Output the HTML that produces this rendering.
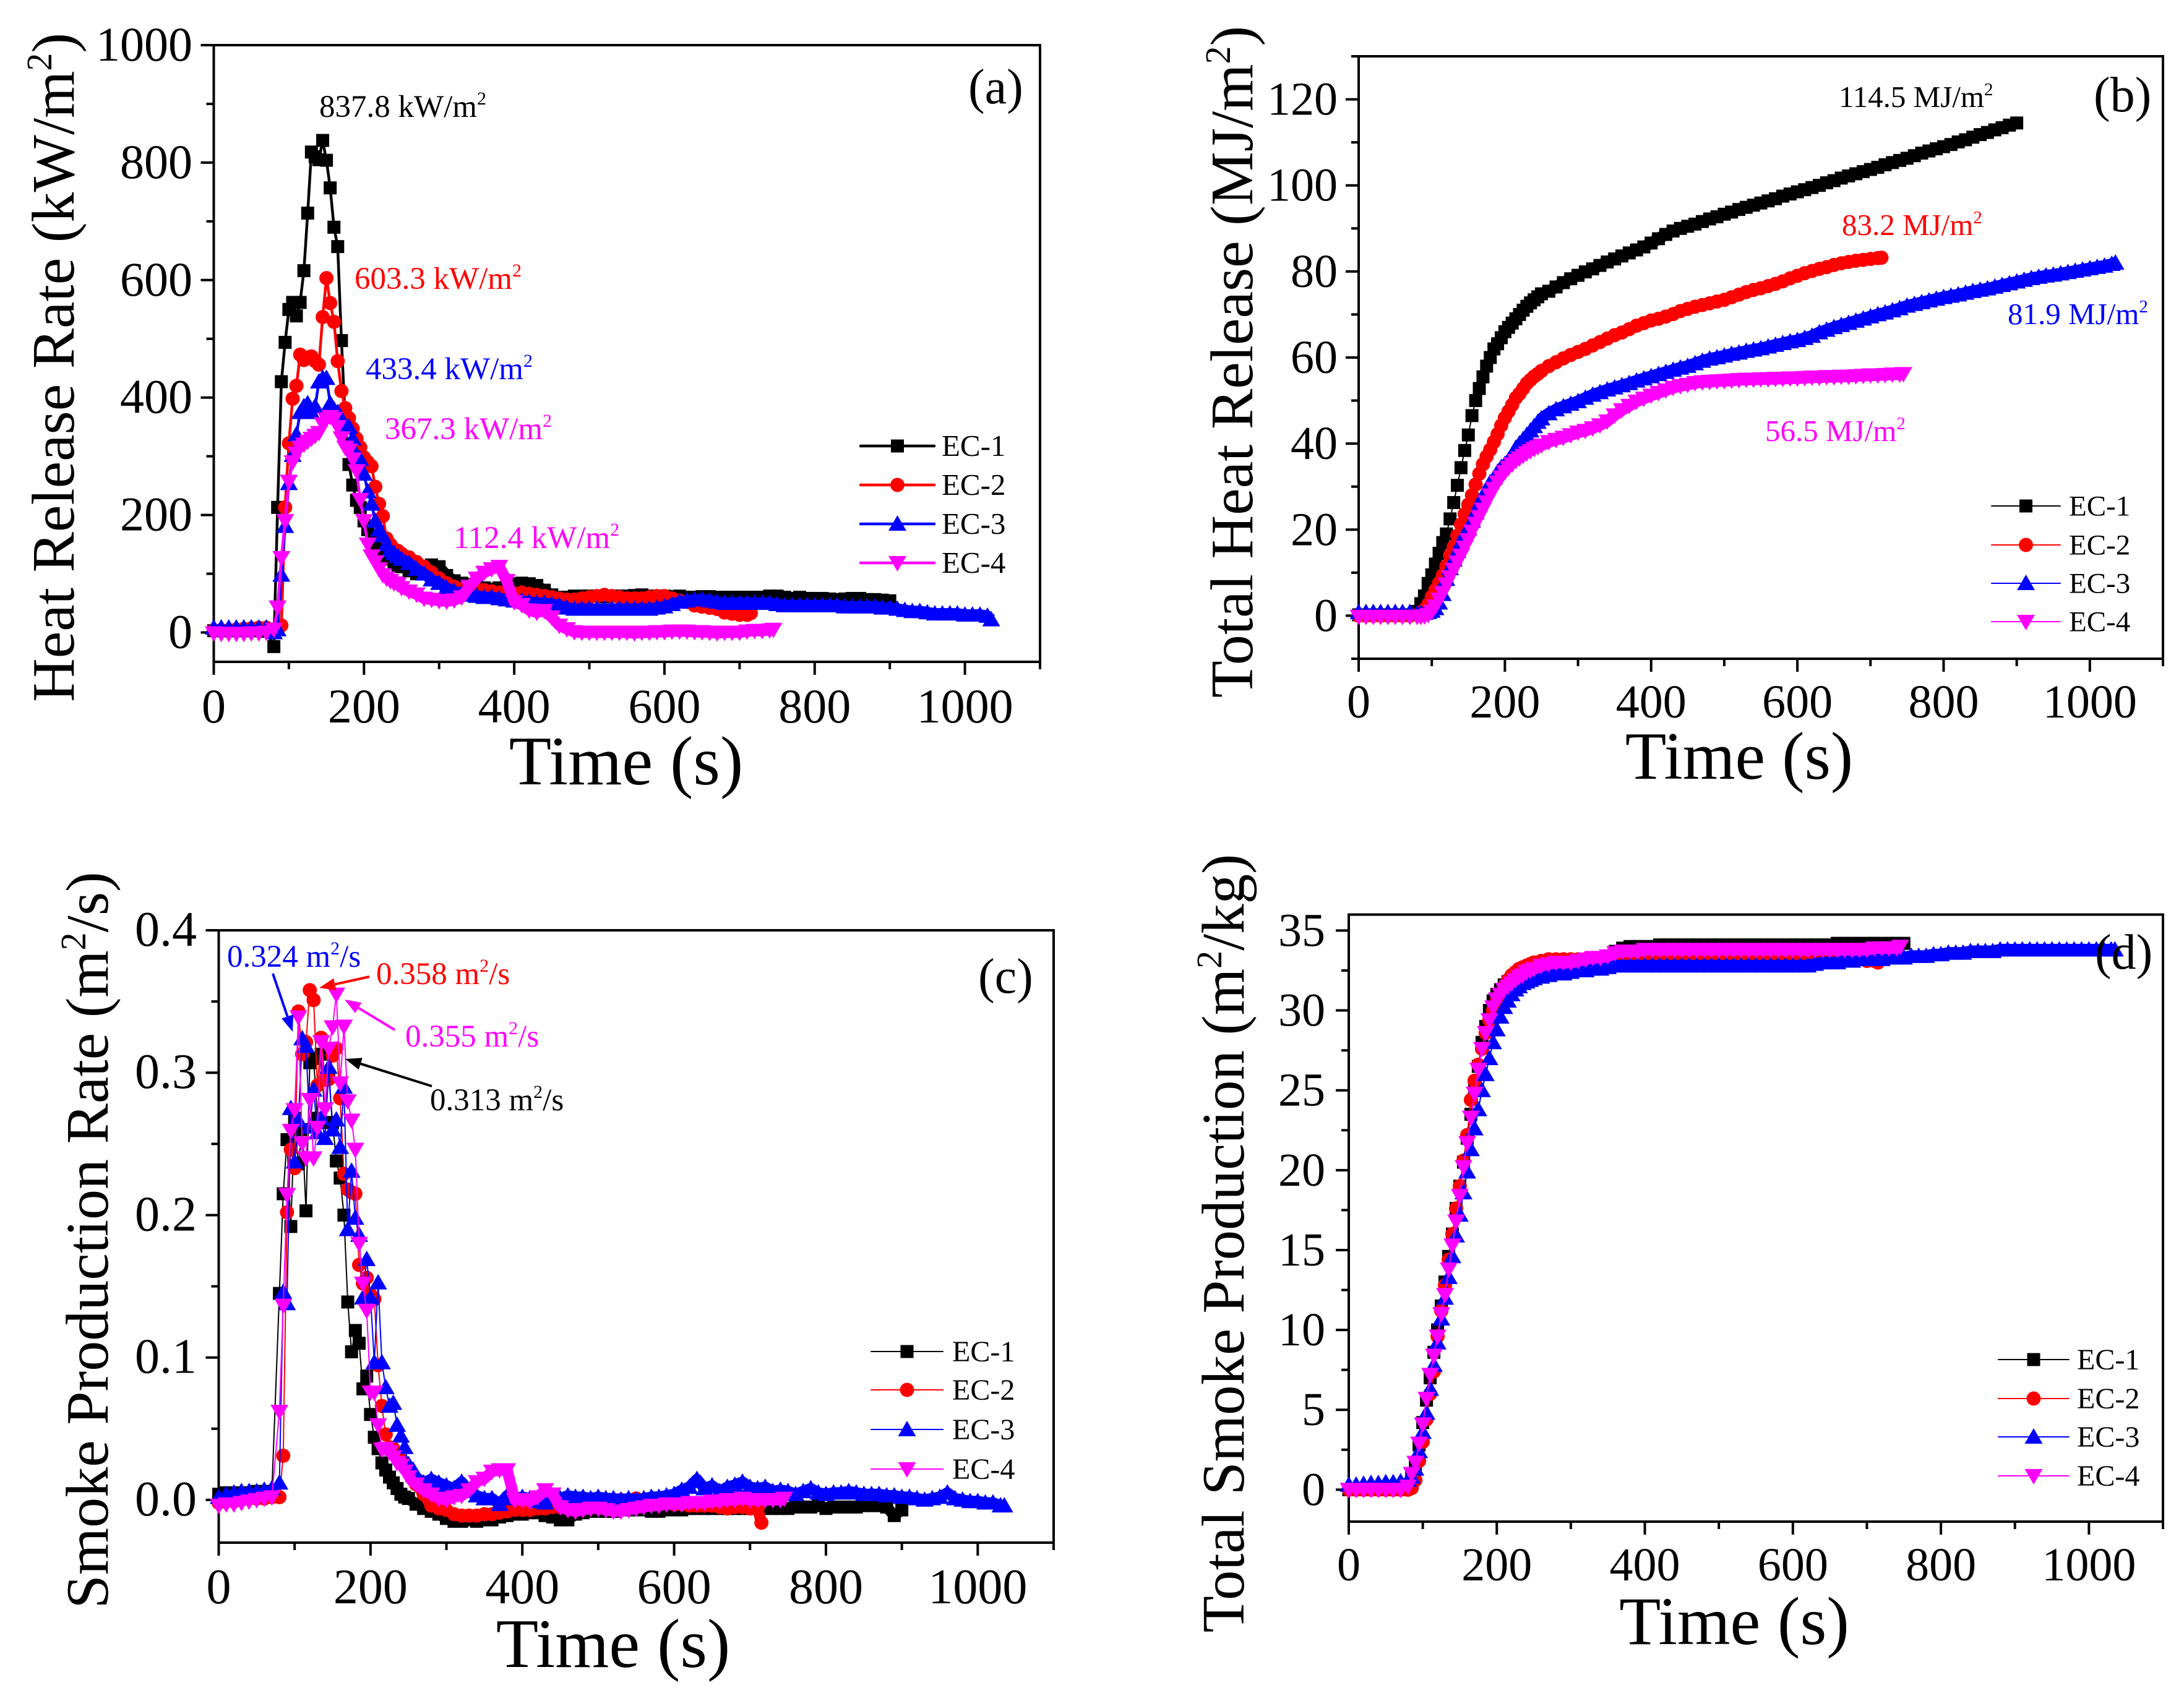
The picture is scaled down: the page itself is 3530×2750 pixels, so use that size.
<!DOCTYPE html>
<html lang="en">
<head>
<meta charset="utf-8">
<title>Heat release and smoke production of EC-1 to EC-4</title>
<style>
html,body{margin:0;padding:0;background:#fff;}
svg{display:block;}
text{font-family:"Liberation Serif",serif;fill:#000;}
</style>
</head>
<body>
<svg id="figure" xmlns="http://www.w3.org/2000/svg" width="3530" height="2750" viewBox="0 0 3530 2750">
<rect x="0" y="0" width="3530" height="2750" fill="#fff"/>

<g id="panel-a">
  <text transform="translate(119,594) rotate(-90)" text-anchor="middle" font-size="98">Heat Release Rate (kW/m<tspan font-size="58" dy="-36">2</tspan><tspan dy="36">)</tspan></text>
  <text x="1012" y="1268" text-anchor="middle" font-size="112">Time (s)</text>
  <text x="1565" y="167" font-size="80">(a)</text>
  <text x="516" y="189" font-size="51" style="fill:#000">837.8 kW/m<tspan font-size="30" dy="-20">2</tspan></text>
  <text x="573" y="467" font-size="51" style="fill:#f00">603.3 kW/m<tspan font-size="30" dy="-20">2</tspan></text>
  <text x="591" y="613" font-size="51" style="fill:#00f">433.4 kW/m<tspan font-size="30" dy="-20">2</tspan></text>
  <text x="622" y="710" font-size="51" style="fill:#f0f">367.3 kW/m<tspan font-size="30" dy="-20">2</tspan></text>
  <text x="733" y="886" font-size="51" style="fill:#f0f">112.4 kW/m<tspan font-size="30" dy="-20">2</tspan></text>
</g>

<g id="panel-b">
  <text transform="translate(2024,585) rotate(-90)" text-anchor="middle" font-size="98">Total Heat Release (MJ/m<tspan font-size="58" dy="-36">2</tspan><tspan dy="36">)</tspan></text>
  <text x="2811" y="1259" text-anchor="middle" font-size="109">Time (s)</text>
  <text x="3384" y="180" font-size="80">(b)</text>
  <text x="2972" y="173" font-size="49" style="fill:#000">114.5 MJ/m<tspan font-size="29" dy="-19">2</tspan></text>
  <text x="2977" y="380" font-size="49" style="fill:#f00">83.2 MJ/m<tspan font-size="29" dy="-19">2</tspan></text>
  <text x="3245" y="524" font-size="49" style="fill:#00f">81.9 MJ/m<tspan font-size="29" dy="-19">2</tspan></text>
  <text x="2853" y="713" font-size="49" style="fill:#f0f">56.5 MJ/m<tspan font-size="29" dy="-19">2</tspan></text>
</g>

<g id="panel-c">
  <text transform="translate(174,2005) rotate(-90)" text-anchor="middle" font-size="98">Smoke Production Rate (m<tspan font-size="58" dy="-36">2</tspan><tspan dy="36">/s)</tspan></text>
  <text x="991" y="2695" text-anchor="middle" font-size="112">Time (s)</text>
  <text x="1581" y="1605" font-size="80">(c)</text>
  <text x="367" y="1563" font-size="51" style="fill:#00f">0.324 m<tspan font-size="30" dy="-20">2</tspan><tspan dy="20">/s</tspan></text>
  <text x="608" y="1591" font-size="51" style="fill:#f00">0.358 m<tspan font-size="30" dy="-20">2</tspan><tspan dy="20">/s</tspan></text>
  <text x="655" y="1692" font-size="51" style="fill:#f0f">0.355 m<tspan font-size="30" dy="-20">2</tspan><tspan dy="20">/s</tspan></text>
  <text x="695" y="1795" font-size="51" style="fill:#000">0.313 m<tspan font-size="30" dy="-20">2</tspan><tspan dy="20">/s</tspan></text>
</g>

<g id="panel-d">
  <text transform="translate(2010,2010) rotate(-90)" text-anchor="middle" font-size="97">Total Smoke Production (m<tspan font-size="58" dy="-36">2</tspan><tspan dy="36">/kg)</tspan></text>
  <text x="2803" y="2658" text-anchor="middle" font-size="110">Time (s)</text>
</g>
</svg>

<script>
// Shared sampling times (seconds) for every series in every panel
const timeSeconds = [
  0,10,20,30,40,50,60,70,
  80,85,90,95,100,105,110,115,120,125,130,135,140,145,150,155,160,165,170,175,180,185,190,195,200,205,210,215,220,225,230,235,240,245,250,
  260,270,280,290,300,310,320,330,340,350,
  360,370,380,390,400,410,420,430,440,450,
  460,470,480,490,500,510,520,530,540,550,
  560,570,580,590,600,610,620,630,640,650,
  660,670,680,690,700,710,720,730,740,750,
  760,770,780,790,800,810,820,830,840,850,
  860,870,880,890,900,910,920,930,940,950,
  960,970,980,990,1000,1010,1020,1030,1040
];
// Time of each specimen's final reading (burn-out), seconds
const seriesEndTimes = [900,715,1035,745];
const seriesNames = ['EC-1','EC-2','EC-3','EC-4'];
const xTickLabels = ['0','200','400','600','800','1000'];
const xMinorTicks = [100,300,500,700,900,1100];

// (a) Heat release rate, kW/m2
const hrrEc1 = [3,3,3,3,3,3,3,2,
  -24,213,427,494,550,562,539,562,616,714,818,810,805,837.8,804,757,690,657,497,360,286,251,225,213,190,175,160,150,140,135,130,125,120,115,112,
  105,100,100,115,112,97,88,84,82,80,
  76,74,76,80,83,84,83,80,72,64,
  60,60,62,62,62,62,61,62,62,62,
  63,64,62,62,62,61,62,60,60,61,
  61,60,60,60,60,60,60,60,62,62,
  60,58,60,58,58,58,57,56,57,58,
  58,56,56,55,54];
const hrrEc2 = [4,4,4,5,6,7,8,8,
  5,5,12,213,322,398,420,473,464,468,470,462,456,537,603.3,561,529,462,411,382,365,347,330,315,298,290,283,248,219,198,160,150,142,139,134,
  128,120,112,102,92,84,78,74,74,74,
  72,70,68,68,66,68,66,64,62,60,
  58,56,56,58,60,62,64,62,60,58,
  58,58,60,62,62,58,54,52,46,44,
  42,40,34,32,30,30,33];
const hrrEc3 = [8,8,8,8,8,8,8,8,
  0,5,98,181,254,302,337,375,385,390,375,385,427,433.4,433,390,380,375,360,353,350,330,302,295,270,240,219,190,175,165,150,140,135,130,125,
  118,108,100,90,84,76,70,66,64,62,
  60,60,58,56,54,54,52,50,50,48,
  46,42,40,40,40,40,40,40,40,40,
  40,40,40,42,44,48,52,54,56,56,
  54,52,50,50,50,50,50,50,50,48,
  46,46,46,46,46,46,46,46,44,44,
  44,44,44,42,42,40,38,36,36,34,
  32,32,32,32,30,30,30,28,22];
const hrrEc4 = [-1,-2,-2,-2,-2,-1,-1,0,
  5,43,127,190,257,290,305,315,320,325,330,335,340,355,363,367.3,364,350,331,315,310,295,275,226,190,150,130,120,108,98,92,88,84,82,76,
  70,65,58,56,54,53,55,60,78,92,
  102,108,112,88,52,47,38,34,37,26,
  12,6,1,0,0,0,0,0,0,0,
  -1,0,0,1,1,2,2,2,1,1,
  0,-1,0,0,0,2,3,3,4,5];
const hrrYTickLabels = ['0','200','400','600','800','1000'];
const hrrYMinorTicks = [100,300,500,700,900];

// (b) Total heat release, MJ/m2
const thrEc1 = [0.2,0.2,0.2,0.2,0.2,0.2,0.2,0.2,
  1,2.8,4.6,7.5,9.5,12,14.5,17,19,22.5,26.3,30.3,34.4,38.4,42,46.5,50,52.8,55.5,58,60,62,63.2,64.6,66,67,68,69,70,71,71.9,72.7,73.4,74.1,74.8,
  75.4,76.4,77.4,78.3,79.1,79.9,80.6,81.4,82.2,82.9,
  83.6,84.3,85,85.7,86.6,87.6,88.6,89.4,90,90.5,
  91,91.6,92.2,92.7,93.3,93.8,94.4,94.9,95.4,95.9,
  96.4,96.9,97.5,98,98.5,99,99.5,100,100.6,101.1,
  101.7,102.2,102.7,103.2,103.7,104.2,104.8,105.3,105.8,106.3,
  106.9,107.5,108,108.5,109,109.5,110.1,110.6,111.2,111.8,
  112.3,112.9,113.4,114,114.5];
const thrEc2 = [0,0,0,0,0,0,0,0,
  0.2,0.6,1.4,2.6,4.4,6,7.6,9.4,11.5,14,16,18.6,21.2,23.6,25.8,28,30.5,33,35.2,37,38.6,40.4,42.2,44.2,46,47.5,49,50.6,51.6,52.8,54,54.8,55.6,56.2,56.9,
  58,58.9,59.8,60.6,61.3,62,62.8,63.6,64.4,65.2,
  65.8,66.6,67.4,68,68.6,69,69.5,70.1,70.8,71.3,
  71.8,72.2,72.6,73,73.4,74,74.6,75.2,75.7,76.1,
  76.6,77.1,77.7,78.4,79,79.6,80.1,80.6,81,81.5,
  81.9,82.2,82.5,82.7,82.9,83.1,83.2];
const thrEc3 = [0.8,0.8,0.8,0.8,0.8,0.8,0.8,0.8,
  0.5,0.5,0.6,0.8,1.1,1.7,3,5,8.5,11,13,15,17,19,20.2,22,24,26,27.8,29.4,31,32,33.4,34.5,35.2,36.2,37.4,39,40,41,42,43,44,45,45.8,
  47,47.9,48.6,49.2,49.8,50.6,51.3,51.9,52.5,53,
  53.5,54,54.6,55.1,55.6,56.1,56.6,57.1,57.6,58,
  58.6,59.2,59.7,60,60.4,60.8,61.1,61.5,61.8,62.1,
  62.5,62.9,63.3,63.7,64,64.5,65,65.8,66.4,67,
  67.5,68,68.5,69,69.5,70,70.4,70.9,71.4,72,
  72.4,72.8,73.2,73.6,74,74.3,74.6,75,75.4,75.7,
  76,76.4,76.8,77.2,77.6,78,78.4,78.7,79,79.2,
  79.5,79.8,80.1,80.4,80.7,81,81.3,81.7,82];
const thrEc4 = [-0.2,-0.2,-0.2,-0.2,-0.2,-0.2,-0.2,-0.2,
  -0.2,-0.2,-0.1,0.2,1,2.2,3.8,5.3,7.3,9,10.7,12.4,14,15.9,17.6,19.6,21.4,23,24.7,26.4,28,29.5,31,32.2,33.4,34.4,35.2,36,36.6,37.2,37.8,38.3,38.8,39.2,39.6,
  40.4,40.9,41.4,42,42.6,43,43.6,44.3,45.2,46.6,
  47.8,48.8,49.8,50.5,51.2,51.8,52.4,53,53.4,53.7,
  54.1,54.3,54.4,54.5,54.6,54.7,54.8,54.9,54.9,55,
  55,55.1,55.1,55.2,55.2,55.3,55.4,55.4,55.5,55.5,
  55.6,55.6,55.7,55.8,55.9,55.9,56,56.1,56.1,56.2];
const thrYTickLabels = ['0','20','40','60','80','100','120'];
const thrYMinorTicks = [-10,10,30,50,70,90,110,130];

// (c) Smoke production rate, m2/s
const sprEc1 = [0.004,0.005,0.005,0.005,0.005,0.006,0.006,0.006,
  0.145,0.215,0.253,0.192,0.268,0.236,0.26,0.203,0.307,0.31,0.268,0.313,0.265,0.298,0.265,0.238,0.226,0.2,0.139,0.104,0.119,0.11,0.078,0.087,0.06,0.044,0.036,0.026,0.021,0.016,0.012,0.008,0.004,0.002,0.001,
  -0.003,-0.006,-0.008,-0.01,-0.013,-0.015,-0.015,-0.014,-0.015,-0.014,
  -0.014,-0.012,-0.011,-0.01,-0.01,-0.009,-0.009,-0.011,-0.012,-0.014,
  -0.014,-0.01,-0.009,-0.008,-0.008,-0.008,-0.008,-0.007,-0.007,-0.007,
  -0.007,-0.008,-0.008,-0.007,-0.007,-0.007,-0.006,-0.006,-0.006,-0.006,
  -0.006,-0.006,-0.006,-0.006,-0.006,-0.006,-0.006,-0.006,-0.006,-0.006,
  -0.005,-0.005,-0.005,-0.004,-0.006,-0.005,-0.005,-0.005,-0.005,-0.004,
  -0.004,-0.004,-0.005,-0.011,-0.007];
const sprEc2 = [-0.002,-0.001,-0.001,0,0.001,0.001,0.001,0.002,
  0.002,0.031,0.202,0.246,0.233,0.343,0.313,0.3215,0.358,0.351,0.291,0.3245,0.295,0.2955,0.312,0.317,0.282,0.229,0.218,0.216,0.215,0.165,0.152,0.156,0.144,0.141,0.0946,0.066,0.046,0.037,0.036,0.03,0.028,0.026,0.02,
  0.011,0.004,-0.004,-0.006,-0.007,-0.01,-0.011,-0.011,-0.011,-0.01,
  -0.01,-0.009,-0.008,-0.007,-0.007,-0.007,-0.006,-0.006,-0.005,-0.005,
  -0.005,-0.004,-0.003,-0.002,-0.001,-0.001,0,0,0,0.001,
  0,-0.001,-0.002,-0.002,-0.003,-0.003,-0.004,-0.004,-0.004,-0.004,
  -0.005,-0.006,-0.005,-0.005,-0.006,-0.006,-0.016];
const sprEc3 = [0.002,0.004,0.005,0.006,0.006,0.006,0.007,0.008,
  0.012,0.146,0.138,0.275,0.2375,0.2665,0.324,0.3187,0.262,0.288,0.258,0.268,0.254,0.304,0.26,0.267,0.2477,0.29,0.19,0.231,0.198,0.186,0.142,0.169,0.142,0.0965,0.1526,0.0965,0.079,0.066,0.068,0.0526,0.045,0.037,0.025,
  0.016,0.012,0.0145,0.012,0.01,0.008,0.0126,0.006,0.003,0.001,
  0.001,-0.003,0.003,0.001,0.002,0.001,-0.001,-0.002,0.001,0.001,
  0.003,0.002,0.002,0.001,0.002,0.001,0.001,0,0.001,0,
  0.001,0.002,0.002,0.003,0.004,0.007,0.009,0.0145,0.008,0.01,
  0.006,0.009,0.0105,0.0126,0.009,0.008,0.009,0.006,0.007,0.006,
  0.004,0.006,0.008,0.005,0.004,0.005,0.005,0.006,0.005,0.004,
  0.004,0.004,0.003,0.003,0.002,0.002,0.001,0,0.001,0.002,
  0.005,0.001,0,-0.001,-0.001,-0.002,-0.002,-0.004,-0.004];
const sprEc4 = [-0.004,-0.003,-0.003,-0.002,-0.001,0,0.001,0.002,
  0.062,0.1365,0.2143,0.2593,0.2738,0.339,0.2505,0.24,0.281,0.24,0.2614,0.3216,0.2745,0.317,0.332,0.355,0.2926,0.3325,0.28,0.2665,0.246,0.18,0.152,0.133,0.0755,0.0755,0.0526,0.0355,0.036,0.0336,0.03,0.026,0.024,0.02,0.016,
  0.011,0.007,0.004,0.001,0,0.002,0.003,0.007,0.0126,0.015,
  0.02,0.021,0.021,0,0,-0.001,0.002,0.007,0.004,-0.005,
  -0.007,-0.008,-0.007,-0.006,-0.006,-0.007,-0.008,-0.008,-0.007,-0.006,
  -0.005,-0.004,-0.004,-0.003,-0.003,-0.003,-0.002,-0.002,-0.002,-0.001,
  -0.001,0,0,0.001,0,0,0,0,0,0.001];
const sprYTickLabels = ['0.0','0.1','0.2','0.3','0.4'];
const sprYMinorTicks = [0.05,0.15,0.25,0.35];

// (d) Total smoke production, m2/kg
const tspEc1 = [0,0,0,0,0,0,0,0,
  0.2,0.8,1.6,2.8,4.2,5.6,7,8.6,10,11.5,13,14.6,16,17.6,19,20.5,22,23.5,25,26.5,28,29,30,30.6,31,31.3,31.6,31.8,32,32.2,32.4,32.5,32.6,32.7,32.8,
  32.9,33,33,33.1,33.1,33.1,33.2,33.2,33.3,33.4,
  33.7,33.9,34,34,34,34,34.1,34.1,34.1,34.1,
  34.1,34.1,34.1,34.1,34.1,34.1,34.1,34.1,34.1,34.1,
  34.1,34.1,34.1,34.1,34.1,34.1,34.1,34.1,34.1,34.1,
  34.2,34.2,34.2,34.2,34.2,34.2,34.2,34.2,34.2,34.2];
const tspEc2 = [0,0,0,0,0,0,0,0,
  0,0.1,0.6,1.8,3,4.4,6,7.4,9.6,11.2,12.8,14.4,16,17.6,19,20.6,22.2,24.4,25.6,26.6,27.6,28.6,29.4,30,30.6,31,31.5,31.9,32.2,32.4,32.6,32.7,32.8,32.9,33,
  33.1,33.2,33.2,33.2,33.2,33.2,33.2,33.2,33.2,33.2,
  33.2,33.2,33.2,33.2,33.2,33.2,33.2,33.2,33.2,33.2,
  33.2,33.2,33.2,33.2,33.2,33.2,33.2,33.2,33.2,33.2,
  33.2,33.2,33.2,33.2,33.2,33.2,33.2,33.2,33.2,33.2,
  33.2,33.2,33.2,33.2,33.1,33.1,33];
const tspEc3 = [0.3,0.3,0.35,0.4,0.4,0.45,0.45,0.5,
  0.6,0.8,1.3,2.4,3.6,4.8,6.3,7.8,9.2,10.7,12,13.3,14.6,15.9,17.2,18.6,19.9,21.3,22.6,23.8,25,26,27,28,28.8,29.6,30.2,30.6,31,31.3,31.5,31.7,31.8,31.9,32,
  32.1,32.2,32.3,32.3,32.4,32.5,32.5,32.6,32.6,32.7,
  32.8,32.8,32.8,32.8,32.8,32.8,32.8,32.8,32.8,32.8,
  32.8,32.8,32.8,32.8,32.8,32.8,32.8,32.8,32.8,32.8,
  32.8,32.8,32.8,32.8,32.8,32.8,32.8,32.9,33,33,
  33,33.1,33.1,33.2,33.2,33.2,33.2,33.3,33.3,33.3,
  33.4,33.4,33.4,33.5,33.5,33.6,33.6,33.6,33.7,33.7,
  33.7,33.7,33.8,33.8,33.8,33.8,33.8,33.8,33.8,33.8,
  33.8,33.8,33.8,33.8,33.8,33.8,33.8,33.8,33.8];
const tspEc4 = [0,0,0,0,0,0,0,0,
  0.2,1,1.7,2.9,4.1,5.7,7.2,8.4,9.6,11,12.2,13.8,15.3,16.8,18.4,20.2,21.7,23.3,24.8,26.3,27.6,28.6,29.4,30.2,30.7,31,31.3,31.5,31.7,31.9,32.1,32.2,32.4,32.5,32.6,
  32.8,32.9,33,33,33,33.1,33.2,33.3,33.3,33.4,
  33.6,33.7,33.7,33.7,33.8,33.8,33.8,33.8,33.8,33.8,
  33.8,33.8,33.8,33.8,33.8,33.8,33.8,33.8,33.8,33.8,
  33.8,33.8,33.8,33.8,33.8,33.8,33.8,33.8,33.8,33.8,
  33.8,33.8,33.8,33.8,33.8,33.9,33.9,33.9,33.9,34];
const tspYTickLabels = ['0','5','10','15','20','25','30','35'];
const tspYMinorTicks = [2.5,7.5,12.5,17.5,22.5,27.5,32.5];

const seriesColors = ['#000000','#ff0000','#0000ff','#ff00ff'];
const markerKinds = ['square','circle','up','down'];
const SVG_NS = 'http://www.w3.org/2000/svg';

function make(tag, parent, attrs) {
  const node = document.createElementNS(SVG_NS, tag);
  for (const key in attrs) node.setAttribute(key, attrs[key]);
  parent.appendChild(node);
  return node;
}

function drawMarker(parent, kind, x, y, color) {
  let node;
  if (kind === 'square') {
    node = make('rect', parent, {x: x - 10.5, y: y - 10.5, width: 21, height: 21, fill: color});
  } else if (kind === 'circle') {
    node = make('circle', parent, {cx: x, cy: y, r: 11.5, fill: color});
  } else if (kind === 'up') {
    node = make('polygon', parent, {points: (x) + ',' + (y - 14) + ' ' + (x - 14.5) + ',' + (y + 11) + ' ' + (x + 14.5) + ',' + (y + 11), fill: color});
  } else {
    node = make('polygon', parent, {points: (x) + ',' + (y + 14) + ' ' + (x - 14.5) + ',' + (y - 11) + ' ' + (x + 14.5) + ',' + (y - 11), fill: color});
  }
  return node;
}

function sampleTime(i, s, count) {
  return i === count - 1 ? Math.min(timeSeconds[i], seriesEndTimes[s]) : timeSeconds[i];
}

function drawPanel(cfg) {
  const root = document.getElementById(cfg.id);
  const xScale = function (t) { return cfg.left + t * (cfg.right - cfg.left) / 1100; };
  const yScale = function (v) { return cfg.bottom - (v - cfg.yMin) * (cfg.bottom - cfg.top) / (cfg.yMax - cfg.yMin); };

  const frame = make('rect', root, {x: cfg.left, y: cfg.top, width: cfg.right - cfg.left, height: cfg.bottom - cfg.top, fill: 'none', stroke: '#000', 'stroke-width': 4});
  
  

  xTickLabels.forEach(function (label) {
    const x = xScale(Number(label));
    const tick = make('line', root, {x1: x, x2: x, y1: cfg.bottom, y2: cfg.bottom + 21, stroke: '#000', 'stroke-width': 4});
    
    
    const text = make('text', root, {x: x, y: cfg.xLabelY, 'text-anchor': 'middle', 'font-size': cfg.tickFont});
    text.textContent = label;
    
    
  });
  xMinorTicks.forEach(function (value) {
    const x = xScale(value);
    const tick = make('line', root, {x1: x, x2: x, y1: cfg.bottom, y2: cfg.bottom + 12, stroke: '#000', 'stroke-width': 4});
    
    
  });
  cfg.yLabels.forEach(function (label) {
    const y = yScale(Number(label));
    const tick = make('line', root, {x1: cfg.left - 21, x2: cfg.left, y1: y, y2: y, stroke: '#000', 'stroke-width': 4});
    
    
    const text = make('text', root, {x: cfg.yLabelX, y: y + 25, 'text-anchor': 'end', 'font-size': cfg.tickFont});
    text.textContent = label;
    
    
  });
  cfg.yMinor.forEach(function (value) {
    const y = yScale(value);
    const tick = make('line', root, {x1: cfg.left - 12, x2: cfg.left, y1: y, y2: y, stroke: '#000', 'stroke-width': 4});
    
    
  });

  cfg.series.forEach(function (values, s) {
    const group = make('g', root, {});
    
    
    const count = values.length;
    const pts = values.map(function (v, i) { return xScale(sampleTime(i, s, count)).toFixed(1) + ',' + yScale(v).toFixed(1); });
    const line = make('polyline', group, {points: pts.join(' '), fill: 'none', stroke: seriesColors[s], 'stroke-width': cfg.lineWidth, 'stroke-linejoin': 'round'});
    
    
    // Late-time markers overlap into a continuous ribbon in the figure
    const ribbonPts = pts.filter(function (p, i) { return timeSeconds[i] >= 250; });
    const ribbon = make('polyline', group, {points: ribbonPts.join(' '), fill: 'none', stroke: seriesColors[s], 'stroke-width': cfg.ribbonWidth, 'stroke-linejoin': 'round'});
    
    
    values.forEach(function (v, i) {
      const mark = drawMarker(group, markerKinds[s], xScale(sampleTime(i, s, count)), yScale(v), seriesColors[s]);
      
      
    });
  });

  const legend = make('g', root, {});
  
  
  seriesNames.forEach(function (name, s) {
    const y = cfg.legendY[s];
    const sample = make('line', legend, {x1: cfg.legendX1, x2: cfg.legendX2, y1: y, y2: y, stroke: seriesColors[s], 'stroke-width': cfg.lineWidth, 'stroke-linecap': 'round'});
    
    
    const mark = drawMarker(legend, markerKinds[s], (cfg.legendX1 + cfg.legendX2) / 2, y, seriesColors[s]);
    
    
    const text = make('text', legend, {x: cfg.legendTextX, y: y + cfg.legendFont * 0.33, 'font-size': cfg.legendFont});
    text.textContent = name;
    
    
  });
}

drawPanel({id: 'panel-a', left: 345.5, right: 1681, top: 73, bottom: 1070, yMin: -50, yMax: 1000,
  series: [hrrEc1, hrrEc2, hrrEc3, hrrEc4], yLabels: hrrYTickLabels, yMinor: hrrYMinorTicks,
  lineWidth: 4.5, ribbonWidth: 18, tickFont: 78, xLabelY: 1168, yLabelX: 311,
  legendX1: 1391, legendX2: 1510, legendTextX: 1522, legendY: [721, 784, 847, 910], legendFont: 49});

drawPanel({id: 'panel-b', left: 2196, right: 3496, top: 91, bottom: 1065, yMin: -10, yMax: 130,
  series: [thrEc1, thrEc2, thrEc3, thrEc4], yLabels: thrYTickLabels, yMinor: thrYMinorTicks,
  lineWidth: 2, ribbonWidth: 19, tickFont: 76, xLabelY: 1160, yLabelX: 2162,
  legendX1: 3219, legendX2: 3330, legendTextX: 3344, legendY: [818, 881, 943, 1005], legendFont: 47});

drawPanel({id: 'panel-c', left: 353.5, right: 1703, top: 1504, bottom: 2494, yMin: -0.03, yMax: 0.4,
  series: [sprEc1, sprEc2, sprEc3, sprEc4], yLabels: sprYTickLabels, yMinor: sprYMinorTicks,
  lineWidth: 2, ribbonWidth: 18, tickFont: 80, xLabelY: 2592, yLabelX: 318,
  legendX1: 1408, legendX2: 1524, legendTextX: 1539, legendY: [2185, 2247, 2311, 2375], legendFont: 48});

drawPanel({id: 'panel-d', left: 2180, right: 3496, top: 1478.6, bottom: 2460, yMin: -2, yMax: 36,
  series: [tspEc1, tspEc2, tspEc3, tspEc4], yLabels: tspYTickLabels, yMinor: tspYMinorTicks,
  lineWidth: 2, ribbonWidth: 19, tickFont: 76, xLabelY: 2555, yLabelX: 2142,
  legendX1: 3230, legendX2: 3344, legendTextX: 3357, legendY: [2198, 2261, 2323, 2386], legendFont: 48});

// Panel (d) label sits above the curves; panel (c) callout arrows sit above the markers
const labelD = make('text', document.getElementById('panel-d'), {x: 3386, y: 1566, 'font-size': 80});
labelD.textContent = '(d)';



const calloutTail = [[441,1574],[597,1579],[638,1665],[698,1756]];
const calloutTip = [[473,1668],[516,1597],[557,1616],[558,1712]];
const calloutColors = ['#0000ff','#ff0000','#ff00ff','#000000'];
const panelC = document.getElementById('panel-c');
calloutTail.forEach(function (tail, i) {
  const tip = calloutTip[i];
  const dx = tip[0] - tail[0], dy = tip[1] - tail[1];
  const len = Math.sqrt(dx * dx + dy * dy);
  const ux = dx / len, uy = dy / len;
  const baseX = tip[0] - ux * 26, baseY = tip[1] - uy * 26;
  const shaft = make('line', panelC, {x1: tail[0], y1: tail[1], x2: baseX, y2: baseY, stroke: calloutColors[i], 'stroke-width': 4});
  
  
  const head = make('polygon', panelC, {points: tip[0] + ',' + tip[1] + ' ' + (baseX - uy * 10) + ',' + (baseY + ux * 10) + ' ' + (baseX + uy * 10) + ',' + (baseY - ux * 10), fill: calloutColors[i]});
  
  
});
</script>
</body>
</html>
